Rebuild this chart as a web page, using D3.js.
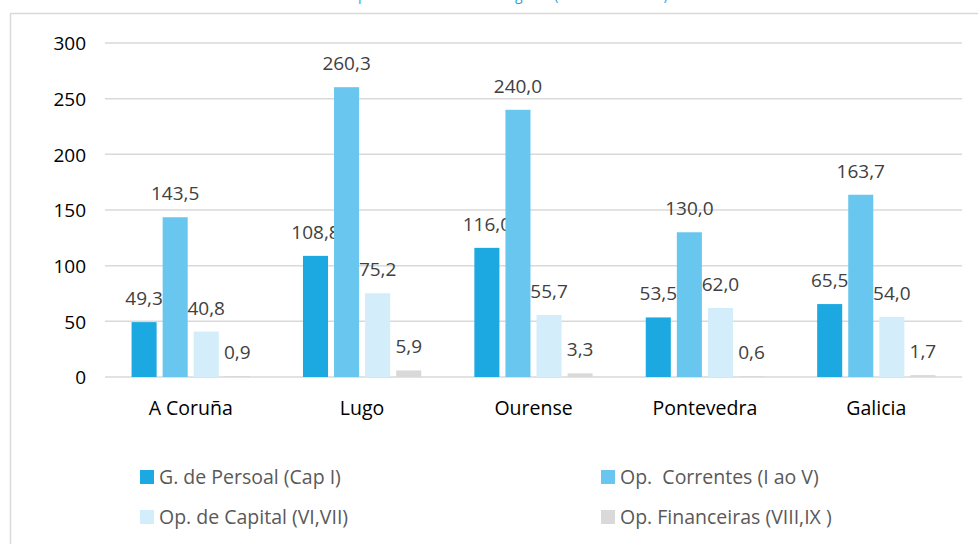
<!DOCTYPE html>
<html>
<head>
<meta charset="utf-8">
<script src="https://cdn.jsdelivr.net/npm/d3@7"></script>
<style>
  body { margin:0; background:#fff; }
  text { font-family: "Open Sans", sans-serif; }
</style>
</head>
<body>
<div id="display"></div>
<script>
var categories = ['A Coruña','Lugo','Ourense','Pontevedra','Galicia']
var seriesNames = ['G. de Persoal (Cap I)','Op.  Correntes (I ao V)','Op. de Capital (VI,VII)','Op. Financeiras (VIII,IX )']
var persoal = [49.3, 108.8, 116.0, 53.5, 65.5]
var correntes = [143.5, 260.3, 240.0, 130.0, 163.7]
var capital = [40.8, 75.2, 55.7, 62.0, 54.0]
var financeiras = [0.9, 5.9, 3.3, 0.6, 1.7]
var yTicks = [0, 50, 100, 150, 200, 250, 300]
var titleText = 'Gasto por habitante e área de gasto (euros/habitante)'

var colors = ['#1CA8E0','#69C6EE','#D3EDFA','#D9D9D9']
var values = [persoal, correntes, capital, financeiras]

var width = 978, height = 544
var svg = d3.select('#display').append('svg')
  .attr('width', width)
  .attr('height', height)

// frame of the chart area
svg.append('rect')
  .attr('x', 10.5).attr('y', 13.5)
  .attr('width', 1000).attr('height', 600)
  .attr('fill', 'none')
  .attr('stroke', '#D9D9D9')
  .attr('stroke-width', 1.5)

// title, only its lower edge is in the picture
svg.append('text')
  .attr('x', 492).attr('y', 0)
  .attr('text-anchor', 'middle')
  .attr('font-size', 14)
  .attr('fill', '#2E9FD8')
  .text(titleText)

var x = d3.scaleBand().domain(categories).range([105, 962]).paddingInner(0.31).paddingOuter(0.155)
var xs = d3.scaleBand().domain(d3.range(4)).range([0, x.bandwidth()]).paddingInner(0.194)
var y = d3.scaleLinear().domain([0, 300]).range([377, 43])

// gridlines
svg.selectAll('line.grid').data(yTicks).enter()
  .append('line')
  .attr('class','grid')
  .attr('x1', 105).attr('x2', 962)
  .attr('y1', function(d){ return y(d) })
  .attr('y2', function(d){ return y(d) })
  .attr('stroke', '#D9D9D9')
  .attr('stroke-width', 1.5)

var yAxis = svg.append('g').attr('transform','translate(86,0)')
  .call(d3.axisLeft(y).tickValues(yTicks).tickSize(0).tickPadding(0))
yAxis.select('.domain').remove()
yAxis.selectAll('text')
  .attr('font-size', 19)
  .attr('fill', '#000')
  .attr('font-family', '"Open Sans"')
  .attr('dy', '0.36em')

var xAxis = svg.append('g').attr('transform','translate(0,377)')
  .call(d3.axisBottom(x).tickSize(0).tickPadding(0))
xAxis.select('.domain').remove()
xAxis.selectAll('text')
  .attr('font-size', 19.5)
  .attr('fill', '#000')
  .attr('font-family', '"Open Sans"')
  .attr('y', 38)
  .attr('dy', 0)

// bars and labels
values.forEach(function(vals, s){
  var g = svg.append('g')
  g.selectAll('rect').data(vals).enter()
    .append('rect')
    .attr('x', function(d,i){ return x(categories[i]) + xs(s) })
    .attr('y', function(d){ return y(d) })
    .attr('width', xs.bandwidth())
    .attr('height', function(d){ return y(0) - y(d) })
    .attr('fill', colors[s])

  g.selectAll('text').data(vals).enter()
    .append('text')
    .attr('x', function(d,i){ return x(categories[i]) + xs(s) + xs.bandwidth()/2 })
    .attr('y', function(d){ return y(d) - 17 })
    .attr('text-anchor','middle')
    .attr('font-size', 19)
    .attr('fill', '#404040')
    .text(function(d){ return d3.format('.1f')(d).replace('.', ',') })
})

// legend, two columns
var legend = svg.selectAll('g.legend').data(seriesNames).enter()
  .append('g')
  .attr('class','legend')
  .attr('transform', function(d,i){
    return 'translate(' + (i%2 ? 601 : 140) + ',' + (470 + Math.floor(i/2)*40) + ')'
  })
legend.append('rect')
  .attr('width', 14).attr('height', 14)
  .attr('fill', function(d,i){ return colors[i] })
legend.append('text')
  .attr('x', 19).attr('y', 14)
  .attr('font-size', 19.5)
  .attr('fill', '#595959')
  .style('white-space','pre')
  .text(function(d){ return d })
</script>
</body>
</html>
